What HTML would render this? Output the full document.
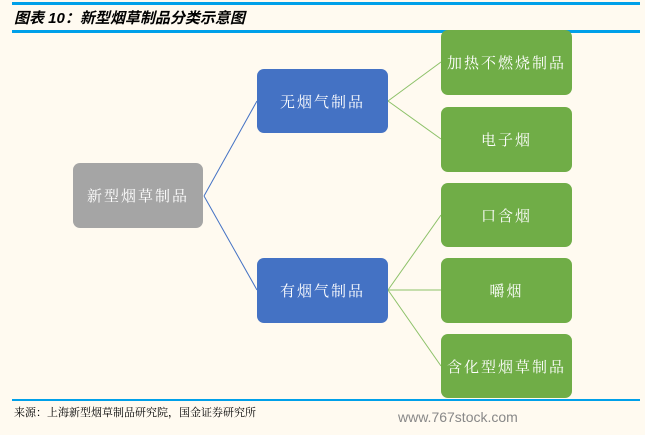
<!DOCTYPE html>
<html><head><meta charset="utf-8"><style>
body{margin:0;width:645px;height:435px;background:#fffaf0;position:relative;overflow:hidden;font-family:"Liberation Sans","Noto Serif CJK SC","Noto Sans CJK SC",sans-serif}
.b{position:absolute;border-radius:7px;color:#fff;font-size:15px;display:flex;align-items:center;justify-content:center;letter-spacing:2px;font-family:"Noto Serif CJK SC","WenQuanYi Zen Hei",serif}
.g{background:#70ad47}.bl{background:#4472c4}.gr{background:#a5a5a5}
.line{position:absolute;left:12px;width:628px;height:3px;background:#00a0e9}
</style></head><body>
<div class="line" style="top:2px"></div>
<div style="position:absolute;left:14px;top:7px;font-size:15px;font-weight:bold;font-style:italic;color:#000;font-family:'Liberation Sans','Noto Sans CJK SC',sans-serif">图表 10：新型烟草制品分类示意图</div>
<div class="line" style="top:30px"></div>
<svg width="645" height="435" style="position:absolute;left:0;top:0">
<g stroke="#4472c4" stroke-width="1"><line x1="204" y1="196" x2="257" y2="101"/><line x1="204" y1="196" x2="257" y2="290"/></g>
<g stroke="#8cc168" stroke-width="1"><line x1="388" y1="101" x2="441" y2="62"/><line x1="388" y1="101" x2="441" y2="139"/>
<line x1="388" y1="290" x2="441" y2="215"/><line x1="388" y1="290" x2="441" y2="290"/><line x1="388" y1="290" x2="441" y2="366"/></g>
</svg>
<div class="b gr" style="left:73px;top:163px;width:130px;height:65px">新型烟草制品</div>
<div class="b bl" style="left:257px;top:69px;width:131px;height:64px">无烟气制品</div>
<div class="b bl" style="left:257px;top:258px;width:131px;height:65px">有烟气制品</div>
<div class="b g" style="left:441px;top:30px;width:131px;height:65px">加热不燃烧制品</div>
<div class="b g" style="left:441px;top:107px;width:131px;height:65px">电子烟</div>
<div class="b g" style="left:441px;top:183px;width:131px;height:64px">口含烟</div>
<div class="b g" style="left:441px;top:258px;width:131px;height:65px">嚼烟</div>
<div class="b g" style="left:441px;top:334px;width:131px;height:64px">含化型烟草制品</div>
<div class="line" style="top:399px;height:2px"></div>
<div style="position:absolute;left:14px;top:404px;font-size:11px;color:#000;font-family:'Noto Serif CJK SC',serif">来源：上海新型烟草制品研究院，国金证券研究所</div>
<div style="position:absolute;left:398px;top:409px;font-size:14px;color:#888">www.767stock.com</div>
</body></html>
